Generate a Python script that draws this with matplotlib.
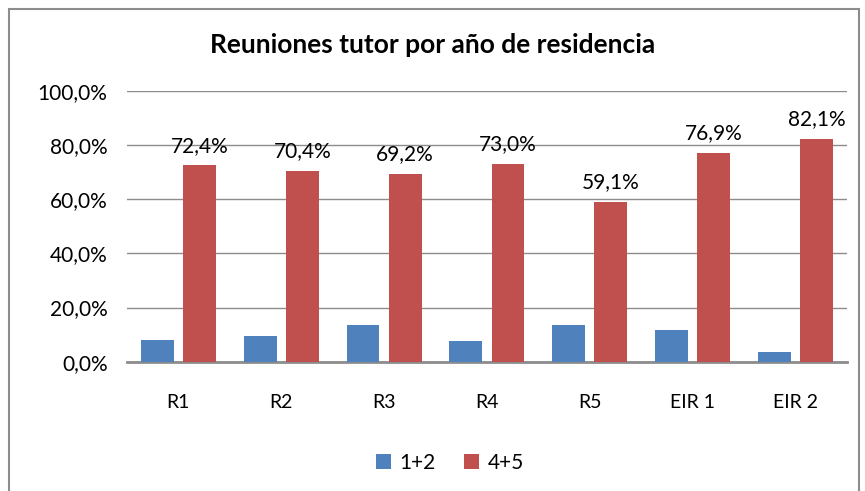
import matplotlib.pyplot as plt
from matplotlib.patches import Rectangle
import numpy as np

plt.rcParams['font.family'] = ['Lato', 'DejaVu Sans']

categories = ["R1", "R2", "R3", "R4", "R5", "EIR 1", "EIR 2"]
vals_12 = [8.1, 9.6, 13.7, 7.5, 13.7, 11.6, 3.6]
vals_45 = [72.4, 70.4, 69.2, 73.0, 59.1, 76.9, 82.1]
series_names = ["1+2", "4+5"]
yticks = [0, 20, 40, 60, 80, 100]

blue = "#4F81BD"
red = "#C0504D"

fig = plt.figure(figsize=(8.65, 4.91), dpi=100)
ax = fig.add_axes([0.1468, 0.2633, 0.979 - 0.1468, 0.8153 - 0.2633])

x = np.arange(len(categories))
w = 0.32
off = 0.205
ax.bar(x - off, vals_12, w, color=blue, label=series_names[0], zorder=3)
bars = ax.bar(x + off, vals_45, w, color=red, label=series_names[1], zorder=3)

for b, v in zip(bars, vals_45):
    ax.annotate(f"{v:.1f}%".replace(".", ","), (b.get_x() + b.get_width() / 2, v),
                xytext=(0, 7), textcoords="offset points", ha="center", va="bottom",
                fontsize=15, color="black")

ax.set_xlim(-0.5, len(categories) - 0.5)
ax.set_ylim(0, 100)
ax.set_yticks(yticks)
ax.set_yticklabels([f"{t:.1f}%".replace(".", ",") for t in yticks], fontsize=15)
ax.set_xticks(x)
ax.set_xticklabels(categories, fontsize=14)
ax.tick_params(axis="y", length=0, pad=14)
ax.tick_params(axis="x", length=0, pad=23)
ax.yaxis.grid(True, color="#8c8c8c", linewidth=1, zorder=0)
for s in ["top", "right", "left"]:
    ax.spines[s].set_visible(False)
ax.spines["bottom"].set_color("#8c8c8c")
ax.spines["bottom"].set_linewidth(2)

fig.text(0.5, 1 - 45 / 491, "Reuniones tutor por año de residencia", ha="center", va="center",
         fontsize=19, fontweight="bold")

fig.legend(loc="center", bbox_to_anchor=(0.52, 1 - 463 / 491), ncol=2, frameon=False,
           fontsize=15, handlelength=0.7, handleheight=0.7, handletextpad=0.4, columnspacing=1.4)

fig.patches.append(Rectangle((8.5 / 865, -0.1), (859 - 8.5) / 865, 1.1 - 9.5 / 491,
                             transform=fig.transFigure, fill=False, edgecolor="#8c8c8c", linewidth=1.5))

fig.savefig("out.png", dpi=100)
